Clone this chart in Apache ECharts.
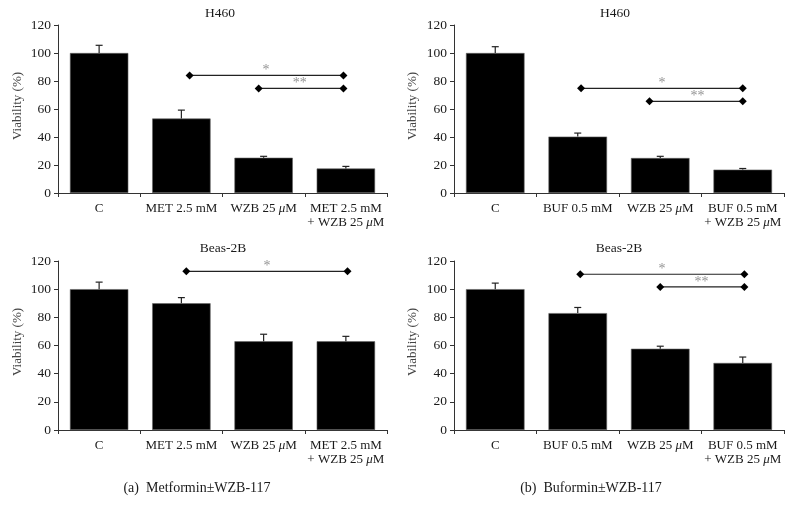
<!DOCTYPE html>
<html><head><meta charset="utf-8">
<script src="https://cdn.jsdelivr.net/npm/echarts@6/dist/echarts.min.js"></script>
<style>html,body{margin:0;padding:0;background:#fff}#c{width:790px;height:511px}</style>
</head><body><div id="c"></div>
<script>
// ---------- data ----------
const catMet = ['C', 'MET 2.5 mM', 'WZB 25 μM', 'MET 2.5 mM\n+ WZB 25 μM'];
const catBuf = ['C', 'BUF 0.5 mM', 'WZB 25 μM', 'BUF 0.5 mM\n+ WZB 25 μM'];
const yTicks = [0, 20, 40, 60, 80, 100, 120];

const h460Met = [100, 53.2, 25.2, 17.5];
const h460MetErr = [5.5, 6, 1, 1.5];
const h460Buf = [100, 40.3, 25, 16.7];
const h460BufErr = [4.5, 2.5, 1.2, 0.8];
const beasMet = [100, 90, 63, 63];
const beasMetErr = [5, 4, 5, 3.5];
const beasBuf = [100, 83, 57.7, 47.6];
const beasBufErr = [4.3, 4, 1.8, 4.2];

// significance brackets: [xStart, xEnd, y] in category units (0..4)
const sigH460Met = [[1.6, 3.47, 84], [2.44, 3.47, 74.7]];
const starsH460Met = [[2.53, 84, '*'], [2.94, 74.7, '**']];
const sigH460Buf = [[1.54, 3.5, 74.8], [2.37, 3.5, 65.5]];
const starsH460Buf = [[2.52, 74.8, '*'], [2.95, 65.5, '**']];
const sigBeasMet = [[1.56, 3.52, 112.7]];
const starsBeasMet = [[2.54, 112.7, '*']];
const sigBeasBuf = [[1.53, 3.52, 110.6], [2.5, 3.52, 101.6]];
const starsBeasBuf = [[2.52, 110.6, '*'], [3.0, 101.6, '**']];

const panelTitles = ['H460', 'H460', 'Beas-2B', 'Beas-2B'];
const captions = ['(a)  Metformin±WZB-117', '(b)  Buformin±WZB-117'];
const yName = 'Viability (%)';

// ---------- layout ----------
const FONT = 'Liberation Serif';
const TXT = '#1a1a1a';
const panels = [
  {grid: {left: 58, top: 25, width: 329, height: 168}, cats: catMet, vals: h460Met, errs: h460MetErr, sig: sigH460Met, stars: starsH460Met},
  {grid: {left: 454, top: 25, width: 330, height: 168}, cats: catBuf, vals: h460Buf, errs: h460BufErr, sig: sigH460Buf, stars: starsH460Buf},
  {grid: {left: 58, top: 261, width: 329, height: 169}, cats: catMet, vals: beasMet, errs: beasMetErr, sig: sigBeasMet, stars: starsBeasMet},
  {grid: {left: 454, top: 261, width: 330, height: 169}, cats: catBuf, vals: beasBuf, errs: beasBufErr, sig: sigBeasBuf, stars: starsBeasBuf}
];

const grid = [], xAxis = [], yAxis = [], series = [];
panels.forEach((p, i) => {
  grid.push(p.grid);
  xAxis.push({
    type: 'category', gridIndex: i, data: p.cats,
    axisLine: {lineStyle: {color: '#333', width: 1}},
    axisTick: {show: true, length: 4, lineStyle: {color: '#333'}},
    axisLabel: {
      margin: 9, fontFamily: FONT, fontSize: 13, color: TXT, lineHeight: 13.5, interval: 0,
      formatter: v => v.replace(/μ/g, '{i|μ}'),
      rich: {i: {fontStyle: 'italic', fontFamily: FONT, fontSize: 13, color: TXT, lineHeight: 13.5}}
    },
    splitLine: {show: false}
  });
  xAxis.push({type: 'value', gridIndex: i, min: 0, max: 4, show: false});
  yAxis.push({
    type: 'value', gridIndex: i, min: 0, max: 120, interval: 20,
    axisLine: {show: true, lineStyle: {color: '#333', width: 1}},
    axisTick: {show: true, length: 4, lineStyle: {color: '#333'}},
    axisLabel: {margin: 7, fontFamily: FONT, fontSize: 13.5, color: TXT,
      formatter: v => yTicks.includes(v) ? String(v) : ''},
    splitLine: {show: false}
  });
  series.push({
    type: 'bar', xAxisIndex: 2 * i, yAxisIndex: i, data: p.vals, barWidth: '71%',
    itemStyle: {color: '#000', borderColor: '#666', borderWidth: 0.6}, silent: true
  });
  series.push({
    type: 'custom', xAxisIndex: 2 * i, yAxisIndex: i, silent: true, z: 3,
    data: p.vals.map((v, k) => [k, v, p.errs[k]]),
    renderItem: (params, api) => {
      const k = api.value(0), v = api.value(1), e = api.value(2);
      const a = api.coord([k, v]), b = api.coord([k, v + e]);
      return {type: 'group', children: [
        {type: 'line', shape: {x1: a[0], y1: a[1], x2: b[0], y2: b[1]}, style: {stroke: '#222', lineWidth: 1.2}},
        {type: 'line', shape: {x1: b[0] - 3.5, y1: b[1], x2: b[0] + 3.5, y2: b[1]}, style: {stroke: '#222', lineWidth: 1.2}}
      ]};
    }
  });
  p.sig.forEach(s => {
    series.push({
      type: 'line', xAxisIndex: 2 * i + 1, yAxisIndex: i, silent: true,
      data: [[s[0], s[2]], [s[1], s[2]]],
      symbol: 'diamond', symbolSize: 8, showSymbol: true,
      itemStyle: {color: '#000'}, lineStyle: {color: '#222', width: 1.2}, animation: false
    });
  });
  series.push({
    type: 'scatter', xAxisIndex: 2 * i + 1, yAxisIndex: i, silent: true,
    symbolSize: 0.1, itemStyle: {color: 'rgba(0,0,0,0)'},
    data: p.stars.map(s => ({value: [s[0], s[1]], name: s[2]})),
    label: {show: true, position: 'top', distance: -2, formatter: '{b}',
      fontFamily: FONT, fontSize: 14, color: '#777'}
  });
});

const graphic = [];
const titlePos = [[220, 13], [615, 13], [223, 248], [619, 248]];
panelTitles.forEach((t, i) => graphic.push({
  type: 'text', x: titlePos[i][0], y: titlePos[i][1],
  style: {text: t, fontFamily: FONT, fontSize: 13.5, fill: TXT, align: 'center', verticalAlign: 'middle'}
}));
const yNamePos = [[17.5, 106], [412.5, 106], [17.5, 342], [412.5, 342]];
yNamePos.forEach(pp => graphic.push({
  type: 'text', x: pp[0], y: pp[1], rotation: Math.PI / 2,
  style: {text: yName, fontFamily: FONT, fontSize: 13, fill: '#444', align: 'center', verticalAlign: 'middle'}
}));
const capPos = [[197, 488], [591, 488]];
captions.forEach((c, i) => graphic.push({
  type: 'text', x: capPos[i][0], y: capPos[i][1],
  style: {text: c, fontFamily: FONT, fontSize: 14, fill: TXT, align: 'center', verticalAlign: 'middle'}
}));

const chart = echarts.init(document.getElementById('c'), null, {renderer: 'canvas'});
chart.setOption({animation: false, backgroundColor: '#fff', grid, xAxis, yAxis, series, graphic});
</script>
</body></html>
